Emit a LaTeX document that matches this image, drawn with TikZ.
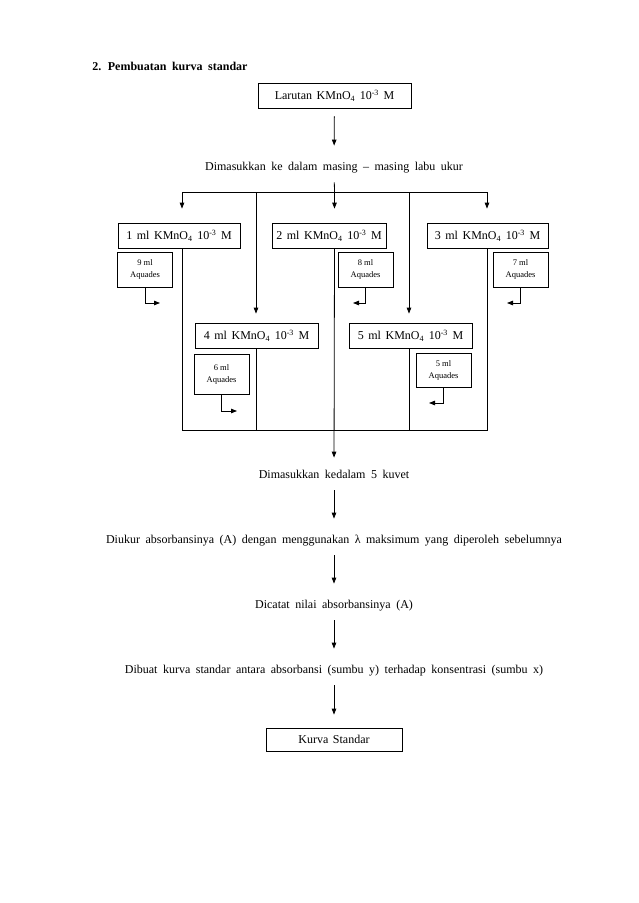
\documentclass[tikz,border=0pt]{standalone}
\usepackage{fontspec}
\setmainfont{Liberation Serif}
\usetikzlibrary{positioning, arrows.meta}
\newcommand{\spasi}[1]{\spaceskip=#1\relax}
\tikzset{
  box/.style={draw, inner sep=0pt, minimum height=25pt, font=\fontsize{12}{14}\selectfont\spasi{4.6pt}},
  aq/.style={draw, inner sep=0pt, minimum width=55pt, align=center, font=\fontsize{8.5}{12}\selectfont},
  txt/.style={inner xsep=0pt, inner ysep=9pt, text height=9pt, text depth=3pt, font=\fontsize{12}{14}\selectfont\spasi{5.5pt}},
  arr/.style={->, shorten >=6pt},
}
\newcommand{\kmno}[1]{#1 ml KMnO\textsubscript{4} 10\textsuperscript{-3} M}

\begin{document}
\begin{tikzpicture}[x=1pt, y=-1pt, >={Triangle[length=6pt,width=4.5pt]}, line width=0.8pt]
  \useasboundingbox (0,0) rectangle (638,903);
  \node[anchor=base west, inner sep=0pt, font=\bfseries\fontsize{12}{14}\selectfont\spasi{5.5pt}] (judul) at (92,70) {2. Pembuatan kurva standar};
  \node[box, minimum width=153pt] (top) at (334.5,95.5) {Larutan KMnO\textsubscript{4} 10\textsuperscript{-3} M};
  \node[txt] (d1) at (334,167) {Dimasukkan ke dalam masing -- masing labu ukur};
  \draw[arr, shorten <=8pt] (top) -- (d1);
  \coordinate (j1) at (182,192); \coordinate (j2) at (256,192); \coordinate (j3) at (334.5,192);
  \coordinate (j4) at (409,192); \coordinate (j5) at (487,192);
  \coordinate (f1) at (182,430); \coordinate (f2) at (256,430); \coordinate (f3) at (334.5,430);
  \coordinate (f4) at (409,430); \coordinate (f5) at (487,430);
  \node[box, minimum width=122pt] (b1) at (179,235.5) {\kmno{1}};
  \node[box, minimum width=114pt] (b2) at (329,235.5) {\kmno{2}};
  \node[box, minimum width=121pt] (b3) at (487.5,235.5) {\kmno{3}};
  \node[box, minimum width=123pt] (b4) at (256.5,335.5) {\kmno{4}};
  \node[box, minimum width=123pt] (b5) at (410.5,335.5) {\kmno{5}};
  \draw (d1) -- (j3);
  \draw (j1) -- (j5);
  \draw[arr, shorten >=14pt] (j1) -- (b1.north -| j1);
  \draw[arr, shorten >=14pt] (j3) -- (b2.north -| j3);
  \draw[arr, shorten >=14pt] (j5) -- (b3.north -| j5);
  \draw[arr, shorten >=9pt] (j2) -- (b4.north -| j2);
  \draw[arr, shorten >=9pt] (j4) -- (b5.north -| j4);
  \draw (b1.south -| j1) -- (f1) -- (f5) -- (b3.south -| j5);
  \draw (b4.south -| j2) -- (f2);
  \draw (b5.south -| j4) -- (f4);
  \node[aq, minimum height=35pt] (aq1) at (145,269.5) {9 ml\\Aquades};
  \node[aq, minimum height=35pt] (aq2) at (365.5,269.5) {8 ml\\Aquades};
  \node[aq, minimum height=35pt] (aq3) at (520.5,269.5) {7 ml\\Aquades};
  \node[aq, minimum height=40pt] (aq4) at (221.5,374) {6 ml\\Aquades};
  \node[aq, minimum height=34pt] (aq5) at (443.5,370) {5 ml\\Aquades};
  \coordinate (e1) at (160,303); \coordinate (e2) at (353,303); \coordinate (e3) at (507,303);
  \coordinate (e4) at (237,411); \coordinate (e5) at (429,403);
  \draw[->] (aq1) |- (e1);
  \draw[->] (aq2) |- (e2);
  \draw[->] (aq3) |- (e3);
  \draw[->] (aq4) |- (e4);
  \draw[->] (aq5) |- (e5);
  \node[txt] (d2) at (334,475) {Dimasukkan kedalam 5 kuvet};
  \node[txt] (ukur) at (334,540) {Diukur absorbansinya (A) dengan menggunakan λ maksimum yang diperoleh sebelumnya};
  \node[txt] (catat) at (334,605) {Dicatat nilai absorbansinya (A)};
  \node[txt] (buat) at (334,670) {Dibuat kurva standar antara absorbansi (sumbu y) terhadap konsentrasi (sumbu x)};
  \node[box, minimum width=136pt, minimum height=23pt] (kurva) at (334,739.5) {Kurva Standar};
  \draw[->, shorten >=2pt] (b2.south -| j3) -- (d2);
  \draw[arr] (d2) -- (ukur);
  \draw[arr] (ukur) -- (catat);
  \draw[arr] (catat) -- (buat);
  \draw[arr, shorten >=13pt] (buat) -- (kurva);
\end{tikzpicture}
\end{document}
